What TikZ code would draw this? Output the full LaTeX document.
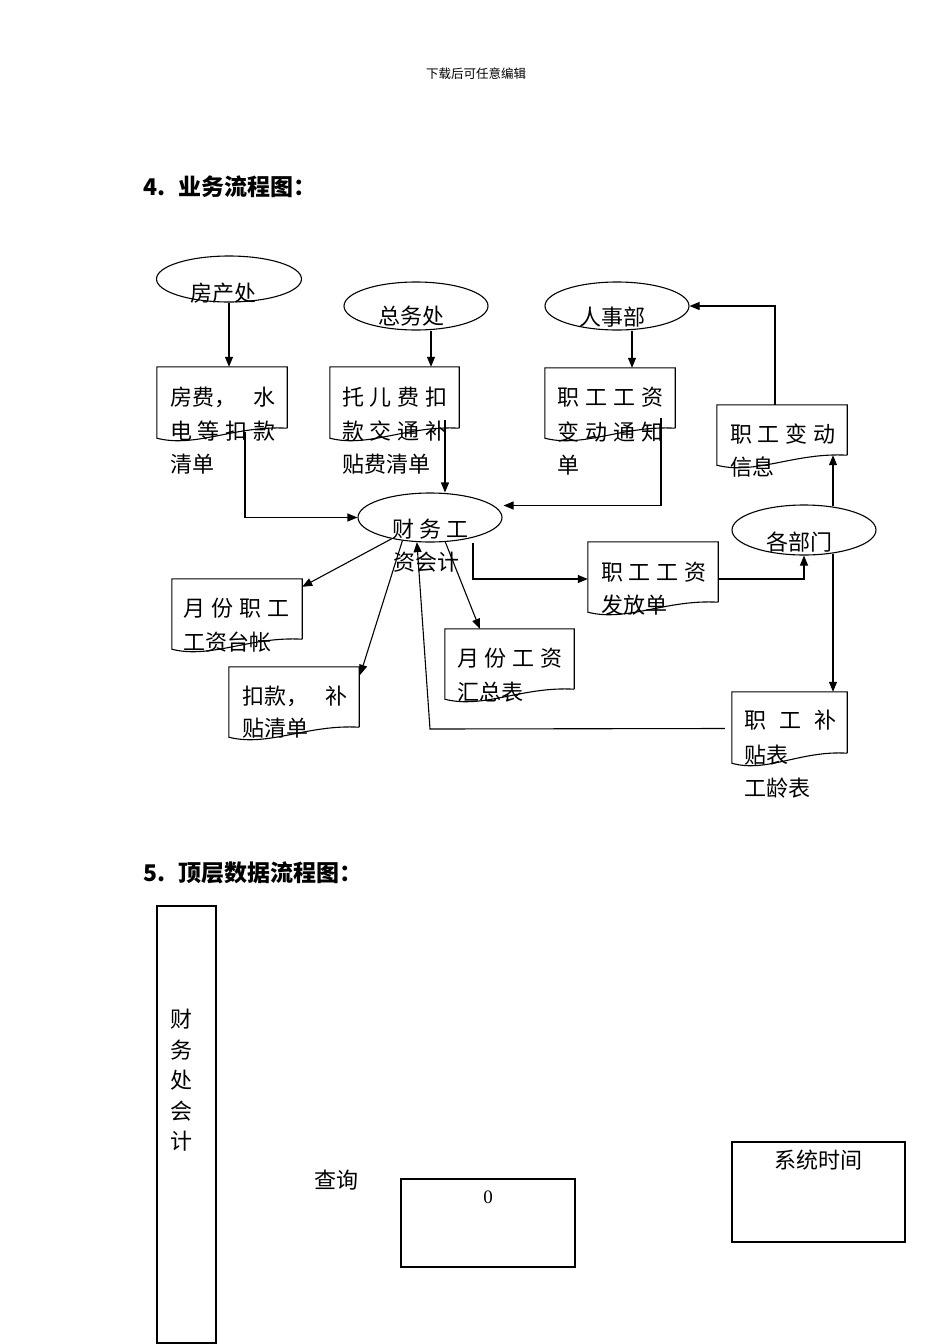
\documentclass[tikz,border=0pt]{standalone}
\usepackage{fontspec}
\setmainfont{Noto Sans CJK SC}
\newfontfamily\serifzero{Liberation Serif}
\usetikzlibrary{arrows.meta,shapes.geometric,calc}
\newcommand\docpath[1]{\draw[ln] (#1.south east) -- (#1.north east) -- (#1.north west) -- ($(#1.south west)+(0,10)$) .. controls ($(#1.south west)!0.3!(#1.south east)+(0,20)$) and ($(#1.south west)!0.6!(#1.south east)+(0,-3)$) .. (#1.south east);}
\newcommand\jl[2]{\makebox[#1pt][s]{#2}}
\begin{document}
\begin{tikzpicture}[x=1pt,y=-1pt,
  ln/.style={line width=1.1pt},
  arr/.style={ln,-{Triangle[length=10pt,width=8pt]}},
  ell/.style={ellipse,draw,ln,inner sep=0pt},
  box/.style={draw=none,inner sep=0pt},
  rbox/.style={draw,ln,inner sep=0pt},
  tx/.style={inner sep=0pt,anchor=west,font=\fontsize{22}{22}\selectfont},
  ttl/.style={inner sep=0pt,anchor=west,font=\fontsize{23}{23}\selectfont\bfseries}]
\useasboundingbox (0,0) rectangle (950,1344);

% header and titles
\node[inner sep=0pt,font=\fontsize{12.5}{12.5}\selectfont] (hdr) at (476,74) {下载后可任意编辑};
\node[ttl] (title4) at (143,187) {4.\hspace{13pt}业务流程图：};
\node[ttl] (title5) at (143,873) {5.\hspace{13pt}顶层数据流程图：};

% ellipses
\node[ell,minimum width=145pt,minimum height=46pt] (fc) at (229,279) {};
\node[ell,minimum width=144pt,minimum height=48pt] (zw) at (416,306) {};
\node[ell,minimum width=144pt,minimum height=48pt] (rs) at (617,306) {};
\node[ell,minimum width=144pt,minimum height=49pt] (cw) at (430,517.5) {};
\node[ell,minimum width=144pt,minimum height=50pt] (gb) at (804,530) {};

% document boxes
\node[box,minimum width=130pt,minimum height=61pt] (d1) at (222,397.5) {};
\node[box,minimum width=129pt,minimum height=61pt] (d2) at (394.5,397.5) {};
\node[box,minimum width=130pt,minimum height=60pt] (d3) at (610,398) {};
\node[box,minimum width=130pt,minimum height=50pt] (d4) at (782,430) {};
\node[box,minimum width=130pt,minimum height=60pt] (d5) at (237,609) {};
\node[box,minimum width=130pt,minimum height=60pt] (d6) at (294,697) {};
\node[box,minimum width=129pt,minimum height=60pt] (d7) at (509.5,659) {};
\node[box,minimum width=130pt,minimum height=60pt] (d8) at (653,572) {};
\node[box,minimum width=115pt,minimum height=61pt] (d9) at (789.5,722.5) {};
\docpath{d1}\docpath{d2}\docpath{d3}\docpath{d4}\docpath{d5}
\docpath{d6}\docpath{d7}\docpath{d8}\docpath{d9}

% texts
\node[tx] (fct) at (190,293) {房产处};
\node[tx] (zwt) at (378,316) {总务处};
\node[tx] (rst) at (579,317) {人事部};
\node[tx] (d1a) at (170,397) {\jl{105}{房费，\hfill 水}};
\node[tx] (d1b) at (170,431) {\jl{105}{电\hfill 等\hfill 扣\hfill 款}};
\node[tx] (d1c) at (170,464) {清单};
\node[tx] (d2a) at (342,397) {\jl{105}{托\hfill 儿\hfill 费\hfill 扣}};
\node[tx] (d2b) at (342,431) {\jl{105}{款\hfill 交\hfill 通\hfill 补}};
\node[tx] (d2c) at (342,464) {贴费清单};
\node[tx] (d3a) at (557,397) {\jl{106}{职\hfill 工\hfill 工\hfill 资}};
\node[tx] (d3b) at (557,432) {\jl{106}{变\hfill 动\hfill 通\hfill 知}};
\node[tx] (d3c) at (557,465) {单};
\node[tx] (d4a) at (730,434) {\jl{105}{职\hfill 工\hfill 变\hfill 动}};
\node[tx] (d4b) at (730,467) {信息};
\node[tx] (cwa) at (392,529) {\jl{76}{财\hfill 务\hfill 工}};
\node[tx] (cwb) at (393,562) {资会计};
\node[tx] (d5a) at (183,608) {\jl{106}{月\hfill 份\hfill 职\hfill 工}};
\node[tx] (d5b) at (183,642) {工资台帐};
\node[tx] (d6a) at (242,696) {\jl{105}{扣款，\hfill 补}};
\node[tx] (d6b) at (242,728) {贴清单};
\node[tx] (d7a) at (457,658) {\jl{105}{月\hfill 份\hfill 工\hfill 资}};
\node[tx] (d7b) at (457,692) {汇总表};
\node[tx] (d8a) at (601,572) {\jl{105}{职\hfill 工\hfill 工\hfill 资}};
\node[tx] (d8b) at (601,605) {发放单};
\node[tx] (gbt) at (766,542) {各部门};
\node[tx] (d9a) at (744,720) {\jl{92}{职\hfill 工\hfill 补}};
\node[tx] (d9b) at (744,755) {贴表};
\node[tx] (d9c) at (744,788) {工龄表};

% connectors
\draw[arr] (fc.south) -- (fc.south |- d1.north);
\coordinate (zwo) at ($(zw.south)+(15,0)$);
\draw[arr] (zwo) -- (zwo |- d2.north);
\coordinate (rso) at ($(rs.south)+(15,0)$);
\draw[arr] (rso) -- (rso |- d3.north);
\coordinate (d4o) at ($(d4.north)+(-7,0)$);
\draw[arr] (d4o) |- (rs.east);
\coordinate (d1o) at (245,432);
\draw[arr] (d1o) |- (cw.west);
\coordinate (d2o) at (445,420);
\draw[arr] (d2o) -- (d2o |- cw.north);
\coordinate (d3o) at (661,418);
\draw[arr] (d3o) |- ($(cw.east)+(1,-12)$);
\draw[arr] (cw.209) -- ($(d5.north east)+(0,8)$);
\draw[arr] (cw.220) -- ($(d6.north east)+(1,8)$);
\draw[arr] (cw.302) -- ($(d7.north west)+(35,0)$);
\coordinate (cwo) at ($(cw.south)+(43,0)$);
\draw[arr] (cwo) |- ($(d8.west)+(0,7)$);
\draw[arr] ($(d8.east)+(0,7)$) -| (gb.south);
\coordinate (gbn) at ($(gb.north)+(29,2)$);
\draw[arr] (gbn) -- (gbn |- d4.south);
\coordinate (gbs) at ($(gb.south)+(29,-2)$);
\draw[arr] (gbs) -- (gbs |- d9.north);
\coordinate (d9o) at ($(d9.west)+(-7,6)$);
\coordinate (bend) at (430,729);
\draw[arr] (d9o) -- (bend) -- (cw.242);

% lower section
\node[rbox,minimum width=59pt,minimum height=437pt] (acc) at (186.5,1124.5) {};
\node[inner sep=0pt,align=center,font=\fontsize{22}{30.5}\selectfont] (acct) at (181,1080.5) {财\\务\\处\\会\\计};
\node[tx] (cx) at (314,1180) {查询};
\node[rbox,minimum width=174pt,minimum height=88pt] (p0) at (488,1223) {};
\node[inner sep=0pt,font=\serifzero\fontsize{19}{19}\selectfont] (p0t) at (488,1197) {0};
\node[rbox,minimum width=173pt,minimum height=100pt] (st) at (818.5,1192) {};
\node[inner sep=0pt,font=\fontsize{22}{22}\selectfont] (stt) at (818,1160) {系统时间};
\end{tikzpicture}
\end{document}
